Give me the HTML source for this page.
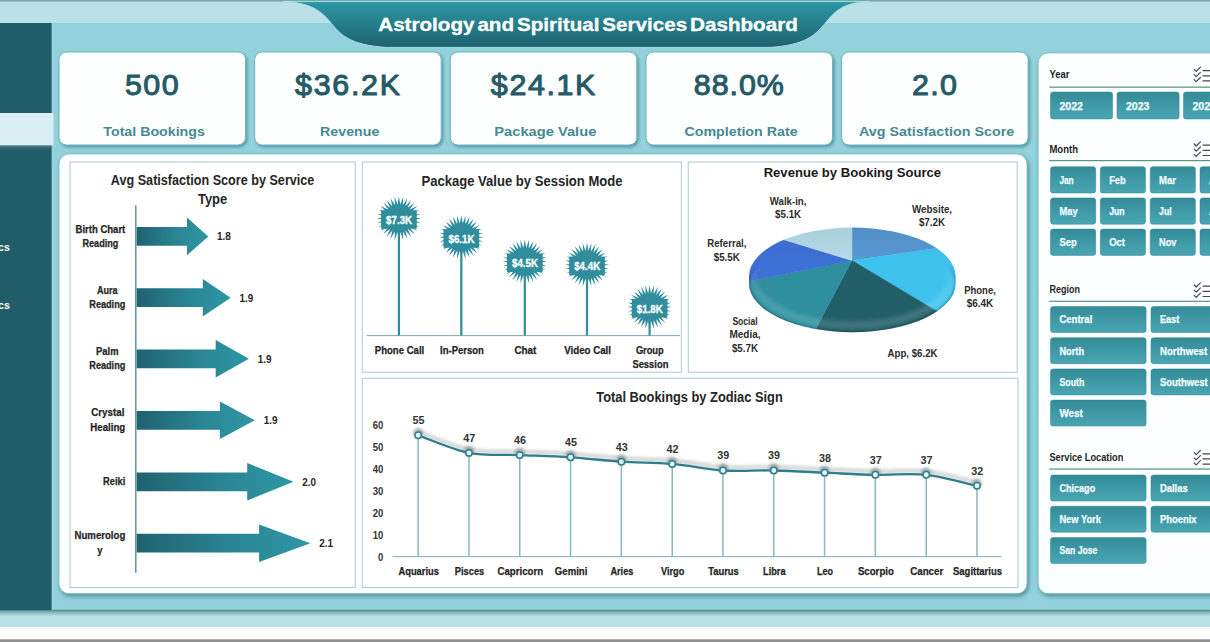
<!DOCTYPE html>
<html lang="en"><head><meta charset="utf-8"><title>Astrology and Spiritual Services Dashboard</title>
<style>
html,body{margin:0;padding:0;background:#fff;}
body{width:1210px;height:642px;overflow:hidden;}
svg{display:block;font-family:"Liberation Sans",sans-serif;}
text{white-space:pre;}
</style></head><body>
<svg width="1210" height="642" viewBox="0 0 1210 642">
<defs>
<linearGradient id="gTab" x1="0" y1="0" x2="0" y2="1"><stop offset="0" stop-color="#2b98a6"/><stop offset="0.45" stop-color="#267f8c"/><stop offset="1" stop-color="#1d626e"/></linearGradient>
<linearGradient id="gBtn" x1="0" y1="0" x2="0" y2="1"><stop offset="0" stop-color="#348b98"/><stop offset="1" stop-color="#4aa6b3"/></linearGradient>
<linearGradient id="gArr" x1="0" y1="0" x2="1" y2="0"><stop offset="0" stop-color="#1f6270"/><stop offset="0.55" stop-color="#2a8593"/><stop offset="1" stop-color="#2f97a5"/></linearGradient>
<linearGradient id="gShB" x1="0" y1="0" x2="0" y2="1"><stop offset="0" stop-color="#4a7a84" stop-opacity="1"/><stop offset="0.35" stop-color="#5f8f98" stop-opacity="0.6"/><stop offset="1" stop-color="#5f8f98" stop-opacity="0"/></linearGradient>
<linearGradient id="gShS" x1="0" y1="0" x2="0" y2="1"><stop offset="0" stop-color="#0e3a42" stop-opacity="0.0"/><stop offset="0.01" stop-color="#5c8a90" stop-opacity="0.9"/><stop offset="1" stop-color="#215d68" stop-opacity="0"/></linearGradient>
<filter id="fCard" x="-5%" y="-10%" width="112%" height="125%"><feDropShadow dx="1.5" dy="1.8" stdDeviation="1.7" flood-color="#2f6f7a" flood-opacity="0.6"/></filter>
<filter id="fPanel" x="-2%" y="-2%" width="105%" height="106%"><feDropShadow dx="1.5" dy="2.4" stdDeviation="2.1" flood-color="#2f6f7a" flood-opacity="0.7"/></filter>
<filter id="fLine" x="-5%" y="-50%" width="110%" height="200%"><feGaussianBlur stdDeviation="1.1"/></filter>
<filter id="fDot" x="-100%" y="-100%" width="300%" height="300%"><feGaussianBlur stdDeviation="1.4"/></filter>
<clipPath id="cpPage"><rect x="0" y="0" width="1210" height="642"/></clipPath>
</defs>
<rect x="0" y="0" width="1210" height="642" fill="#ffffff"/>
<rect x="0" y="0" width="1210" height="23" fill="#b9e1e7"/>
<rect x="0" y="23" width="1210" height="587" fill="#93d2dc"/>
<rect x="0" y="610" width="1210" height="17" fill="#b9e1e7"/>
<rect x="0" y="609.8" width="1210" height="6.5" fill="url(#gShB)"/>
<rect x="0" y="627" width="1210" height="13" fill="#fefefe"/>
<rect x="0" y="639.3" width="1210" height="3" fill="#8f8f8f"/>
<rect x="0" y="0" width="1210" height="1.6" fill="#7da7ad"/>
<rect x="0" y="23" width="51.6" height="587" fill="#215d68"/>
<rect x="0" y="145" width="51.6" height="7" fill="url(#gShS)"/>
<rect x="0" y="113" width="53.5" height="32.3" fill="#d9eff3"/>
<text x="9.8" y="250.7" font-size="11.5" font-weight="bold" text-anchor="end" fill="#ffffff" textLength="47.0" lengthAdjust="spacingAndGlyphs" >Analytics</text>
<text x="9.8" y="309.0" font-size="11.5" font-weight="bold" text-anchor="end" fill="#ffffff" textLength="47.0" lengthAdjust="spacingAndGlyphs" >Analytics</text>
<path d="M283,1.6 C312,2.5 322,12 331.5,23.5 C341,35 350,45 386,47.4 L770,47.4 C806,45 815,35 825,23.5 C834.5,12 842,2.5 869,1.6 Z" fill="url(#gTab)" stroke="#a9e3eb" stroke-width="0.9"/>
<text x="588.0" y="30.8" font-size="18.4" font-weight="bold" text-anchor="middle" fill="#ffffff" textLength="419.5" lengthAdjust="spacingAndGlyphs" word-spacing="-2.5" stroke="#ffffff" stroke-width="0.3">Astrology and Spiritual Services Dashboard</text>
<rect x="59.0" y="52" width="186.5" height="93" rx="7.5" fill="#fdffff" stroke="#6fb4bf" stroke-width="1" filter="url(#fCard)"/>
<text x="151.8" y="95.3" font-size="30.4" text-anchor="middle" fill="#255a66" textLength="53.5" lengthAdjust="spacing" stroke="#255a66" stroke-width="1.05" stroke-linejoin="round">500</text>
<text x="154.1" y="135.5" font-size="13.6" font-weight="bold" text-anchor="middle" fill="#468893" textLength="101.5" lengthAdjust="spacingAndGlyphs" >Total Bookings</text>
<rect x="254.7" y="52" width="186.5" height="93" rx="7.5" fill="#fdffff" stroke="#6fb4bf" stroke-width="1" filter="url(#fCard)"/>
<text x="347.5" y="95.3" font-size="30.4" text-anchor="middle" fill="#255a66" textLength="105.0" lengthAdjust="spacing" stroke="#255a66" stroke-width="1.05" stroke-linejoin="round">$36.2K</text>
<text x="349.7" y="135.5" font-size="13.6" font-weight="bold" text-anchor="middle" fill="#468893" textLength="59.2" lengthAdjust="spacingAndGlyphs" >Revenue</text>
<rect x="450.3" y="52" width="186.5" height="93" rx="7.5" fill="#fdffff" stroke="#6fb4bf" stroke-width="1" filter="url(#fCard)"/>
<text x="543.1" y="95.3" font-size="30.4" text-anchor="middle" fill="#255a66" textLength="104.5" lengthAdjust="spacing" stroke="#255a66" stroke-width="1.05" stroke-linejoin="round">$24.1K</text>
<text x="545.3" y="135.5" font-size="13.6" font-weight="bold" text-anchor="middle" fill="#468893" textLength="102.0" lengthAdjust="spacingAndGlyphs" >Package Value</text>
<rect x="646.0" y="52" width="186.5" height="93" rx="7.5" fill="#fdffff" stroke="#6fb4bf" stroke-width="1" filter="url(#fCard)"/>
<text x="738.8" y="95.3" font-size="30.4" text-anchor="middle" fill="#255a66" textLength="90.0" lengthAdjust="spacing" stroke="#255a66" stroke-width="1.05" stroke-linejoin="round">88.0%</text>
<text x="741.0" y="135.5" font-size="13.6" font-weight="bold" text-anchor="middle" fill="#468893" textLength="113.2" lengthAdjust="spacingAndGlyphs" >Completion Rate</text>
<rect x="841.6" y="52" width="186.5" height="93" rx="7.5" fill="#fdffff" stroke="#6fb4bf" stroke-width="1" filter="url(#fCard)"/>
<text x="934.5" y="95.3" font-size="30.4" text-anchor="middle" fill="#255a66" textLength="45.0" lengthAdjust="spacing" stroke="#255a66" stroke-width="1.05" stroke-linejoin="round">2.0</text>
<text x="936.6" y="135.5" font-size="13.6" font-weight="bold" text-anchor="middle" fill="#468893" textLength="155.4" lengthAdjust="spacingAndGlyphs" >Avg Satisfaction Score</text>
<rect x="59" y="154" width="968" height="439.6" rx="10" fill="#fcffff" stroke="#7dbcc6" stroke-width="0.8" filter="url(#fPanel)"/>
<rect x="1038.2" y="53" width="200" height="540.6" rx="10" fill="#fcffff" stroke="#7dbcc6" stroke-width="0.8" filter="url(#fPanel)"/>
<rect x="70.0" y="162.0" width="285.2" height="425.5" fill="#ffffff" stroke="#b3cdcf" stroke-width="1.1"/>
<rect x="362.3" y="162.0" width="319.0" height="210.2" fill="#ffffff" stroke="#b3cdcf" stroke-width="1.1"/>
<rect x="688.3" y="162.0" width="328.9" height="210.2" fill="#ffffff" stroke="#b3cdcf" stroke-width="1.1"/>
<rect x="362.3" y="378.3" width="655.7" height="209.2" fill="#ffffff" stroke="#b3cdcf" stroke-width="1.1"/>
<text x="212.6" y="184.9" font-size="14" font-weight="bold" text-anchor="middle" fill="#262626" textLength="203.5" lengthAdjust="spacingAndGlyphs" >Avg Satisfaction Score by Service</text>
<text x="212.6" y="203.6" font-size="14" font-weight="bold" text-anchor="middle" fill="#262626" textLength="29.3" lengthAdjust="spacingAndGlyphs" >Type</text>
<rect x="135.2" y="205.3" width="1.25" height="367.4" fill="#33808d"/>
<path d="M136.7,227.0 L187.0,227.0 L187.0,217.6 L208.3,236.4 L187.0,255.2 L187.0,245.8 L136.7,245.8 Z" fill="url(#gArr)"/>
<text x="217.1" y="240.4" font-size="11" font-weight="bold" fill="#262626" textLength="13.8" lengthAdjust="spacingAndGlyphs" >1.8</text>
<text x="100.4" y="232.5" font-size="10.4" font-weight="bold" text-anchor="middle" fill="#262626" textLength="49.8" lengthAdjust="spacingAndGlyphs" stroke="#262626" stroke-width="0.25">Birth Chart</text>
<text x="100.4" y="246.8" font-size="10.4" font-weight="bold" text-anchor="middle" fill="#262626" textLength="36.0" lengthAdjust="spacingAndGlyphs" stroke="#262626" stroke-width="0.25">Reading</text>
<path d="M136.7,288.3 L202.8,288.3 L202.8,278.9 L230.7,297.7 L202.8,316.5 L202.8,307.1 L136.7,307.1 Z" fill="url(#gArr)"/>
<text x="239.5" y="301.7" font-size="11" font-weight="bold" fill="#262626" textLength="13.8" lengthAdjust="spacingAndGlyphs" >1.9</text>
<text x="107.3" y="293.8" font-size="10.4" font-weight="bold" text-anchor="middle" fill="#262626" textLength="20.7" lengthAdjust="spacingAndGlyphs" stroke="#262626" stroke-width="0.25">Aura</text>
<text x="107.3" y="308.1" font-size="10.4" font-weight="bold" text-anchor="middle" fill="#262626" textLength="36.0" lengthAdjust="spacingAndGlyphs" stroke="#262626" stroke-width="0.25">Reading</text>
<path d="M136.7,349.4 L215.7,349.4 L215.7,340.0 L248.9,358.8 L215.7,377.6 L215.7,368.2 L136.7,368.2 Z" fill="url(#gArr)"/>
<text x="257.7" y="362.8" font-size="11" font-weight="bold" fill="#262626" textLength="13.8" lengthAdjust="spacingAndGlyphs" >1.9</text>
<text x="107.3" y="354.9" font-size="10.4" font-weight="bold" text-anchor="middle" fill="#262626" textLength="22.4" lengthAdjust="spacingAndGlyphs" stroke="#262626" stroke-width="0.25">Palm</text>
<text x="107.3" y="369.2" font-size="10.4" font-weight="bold" text-anchor="middle" fill="#262626" textLength="36.0" lengthAdjust="spacingAndGlyphs" stroke="#262626" stroke-width="0.25">Reading</text>
<path d="M136.7,410.9 L219.9,410.9 L219.9,401.5 L254.9,420.3 L219.9,439.1 L219.9,429.7 L136.7,429.7 Z" fill="url(#gArr)"/>
<text x="263.7" y="424.3" font-size="11" font-weight="bold" fill="#262626" textLength="13.8" lengthAdjust="spacingAndGlyphs" >1.9</text>
<text x="107.8" y="416.4" font-size="10.4" font-weight="bold" text-anchor="middle" fill="#262626" textLength="33.1" lengthAdjust="spacingAndGlyphs" stroke="#262626" stroke-width="0.25">Crystal</text>
<text x="107.8" y="430.7" font-size="10.4" font-weight="bold" text-anchor="middle" fill="#262626" textLength="34.9" lengthAdjust="spacingAndGlyphs" stroke="#262626" stroke-width="0.25">Healing</text>
<path d="M136.7,472.4 L247.2,472.4 L247.2,463.0 L293.5,481.8 L247.2,500.6 L247.2,491.2 L136.7,491.2 Z" fill="url(#gArr)"/>
<text x="302.3" y="485.8" font-size="11" font-weight="bold" fill="#262626" textLength="13.8" lengthAdjust="spacingAndGlyphs" >2.0</text>
<text x="114.2" y="485.2" font-size="10.4" font-weight="bold" text-anchor="middle" fill="#262626" textLength="22.2" lengthAdjust="spacingAndGlyphs" stroke="#262626" stroke-width="0.25">Reiki</text>
<path d="M136.7,533.8 L259.1,533.8 L259.1,524.4 L310.4,543.2 L259.1,562.0 L259.1,552.6 L136.7,552.6 Z" fill="url(#gArr)"/>
<text x="319.2" y="547.2" font-size="11" font-weight="bold" fill="#262626" textLength="13.8" lengthAdjust="spacingAndGlyphs" >2.1</text>
<text x="99.9" y="539.3" font-size="10.4" font-weight="bold" text-anchor="middle" fill="#262626" textLength="50.8" lengthAdjust="spacingAndGlyphs" stroke="#262626" stroke-width="0.25">Numerolog</text>
<text x="99.9" y="553.6" font-size="10.4" font-weight="bold" text-anchor="middle" fill="#262626" textLength="5.2" lengthAdjust="spacingAndGlyphs" stroke="#262626" stroke-width="0.25">y</text>
<text x="522.0" y="185.7" font-size="14" font-weight="bold" text-anchor="middle" fill="#262626" textLength="201.0" lengthAdjust="spacingAndGlyphs" >Package Value by Session Mode</text>
<rect x="366.8" y="335" width="313" height="1.1" fill="#86b3b9"/>
<rect x="397.8" y="219.6" width="2.2" height="115.9" fill="#2f8d9c"/>
<path d="M398.9,196.2 L400.3,204.7 L403.2,196.6 L402.9,205.2 L407.4,197.9 L405.4,206.2 L411.2,199.9 L407.7,207.7 L414.6,202.7 L409.6,209.6 L417.4,206.1 L411.1,211.9 L419.4,209.9 L412.1,214.4 L420.7,214.1 L412.6,217.0 L421.1,218.4 L412.6,219.8 L420.7,222.7 L412.1,222.4 L419.4,226.9 L411.1,224.9 L417.4,230.7 L409.6,227.2 L414.6,234.1 L407.7,229.1 L411.2,236.9 L405.4,230.6 L407.4,238.9 L402.9,231.6 L403.2,240.2 L400.3,232.1 L398.9,240.6 L397.5,232.1 L394.6,240.2 L394.9,231.6 L390.4,238.9 L392.4,230.6 L386.6,236.9 L390.1,229.1 L383.2,234.1 L388.2,227.2 L380.4,230.7 L386.7,224.9 L378.4,226.9 L385.7,222.4 L377.1,222.7 L385.2,219.8 L376.7,218.4 L385.2,217.0 L377.1,214.1 L385.7,214.4 L378.4,209.9 L386.7,211.9 L380.4,206.1 L388.2,209.6 L383.2,202.7 L390.1,207.7 L386.6,199.9 L392.4,206.2 L390.4,197.9 L394.9,205.2 L394.6,196.6 L397.5,204.7Z" fill="#2f8d9c"/>
<rect x="381.1" y="210.2" width="35.6" height="18.6" fill="#2f8d9c"/>
<text x="399.1" y="224.0" font-size="10.8" font-weight="bold" text-anchor="middle" fill="#ffffff" textLength="26.0" lengthAdjust="spacingAndGlyphs" stroke="#ffffff" stroke-width="0.3">$7.3K</text>
<text x="399.5" y="354.0" font-size="10.4" font-weight="bold" text-anchor="middle" fill="#262626" textLength="49.5" lengthAdjust="spacingAndGlyphs" stroke="#262626" stroke-width="0.25">Phone Call</text>
<rect x="460.2" y="238.5" width="2.2" height="97.0" fill="#2f8d9c"/>
<path d="M461.3,215.1 L462.7,223.6 L465.6,215.5 L465.3,224.1 L469.8,216.8 L467.8,225.1 L473.6,218.8 L470.1,226.6 L477.0,221.6 L472.0,228.5 L479.8,225.0 L473.5,230.8 L481.8,228.8 L474.5,233.3 L483.1,233.0 L475.0,235.9 L483.5,237.3 L475.0,238.7 L483.1,241.6 L474.5,241.3 L481.8,245.8 L473.5,243.8 L479.8,249.6 L472.0,246.1 L477.0,253.0 L470.1,248.0 L473.6,255.8 L467.8,249.5 L469.8,257.8 L465.3,250.5 L465.6,259.1 L462.7,251.0 L461.3,259.5 L459.9,251.0 L457.0,259.1 L457.3,250.5 L452.8,257.8 L454.8,249.5 L449.0,255.8 L452.5,248.0 L445.6,253.0 L450.6,246.1 L442.8,249.6 L449.1,243.8 L440.8,245.8 L448.1,241.3 L439.5,241.6 L447.6,238.7 L439.1,237.3 L447.6,235.9 L439.5,233.0 L448.1,233.3 L440.8,228.8 L449.1,230.8 L442.8,225.0 L450.6,228.5 L445.6,221.6 L452.5,226.6 L449.0,218.8 L454.8,225.1 L452.8,216.8 L457.3,224.1 L457.0,215.5 L459.9,223.6Z" fill="#2f8d9c"/>
<rect x="443.5" y="229.1" width="35.6" height="18.6" fill="#2f8d9c"/>
<text x="461.5" y="242.9" font-size="10.8" font-weight="bold" text-anchor="middle" fill="#ffffff" textLength="26.0" lengthAdjust="spacingAndGlyphs" stroke="#ffffff" stroke-width="0.3">$6.1K</text>
<text x="461.9" y="354.0" font-size="10.4" font-weight="bold" text-anchor="middle" fill="#262626" textLength="43.6" lengthAdjust="spacingAndGlyphs" stroke="#262626" stroke-width="0.25">In-Person</text>
<rect x="523.7" y="262.8" width="2.2" height="72.7" fill="#2f8d9c"/>
<path d="M524.8,239.4 L526.2,247.9 L529.1,239.8 L528.8,248.4 L533.3,241.1 L531.3,249.4 L537.1,243.1 L533.6,250.9 L540.5,245.9 L535.5,252.8 L543.3,249.3 L537.0,255.1 L545.3,253.1 L538.0,257.6 L546.6,257.3 L538.5,260.2 L547.0,261.6 L538.5,263.0 L546.6,265.9 L538.0,265.6 L545.3,270.1 L537.0,268.1 L543.3,273.9 L535.5,270.4 L540.5,277.3 L533.6,272.3 L537.1,280.1 L531.3,273.8 L533.3,282.1 L528.8,274.8 L529.1,283.4 L526.2,275.3 L524.8,283.8 L523.4,275.3 L520.5,283.4 L520.8,274.8 L516.3,282.1 L518.3,273.8 L512.5,280.1 L516.0,272.3 L509.1,277.3 L514.1,270.4 L506.3,273.9 L512.6,268.1 L504.3,270.1 L511.6,265.6 L503.0,265.9 L511.1,263.0 L502.6,261.6 L511.1,260.2 L503.0,257.3 L511.6,257.6 L504.3,253.1 L512.6,255.1 L506.3,249.3 L514.1,252.8 L509.1,245.9 L516.0,250.9 L512.5,243.1 L518.3,249.4 L516.3,241.1 L520.8,248.4 L520.5,239.8 L523.4,247.9Z" fill="#2f8d9c"/>
<rect x="507.0" y="253.4" width="35.6" height="18.6" fill="#2f8d9c"/>
<text x="525.0" y="267.2" font-size="10.8" font-weight="bold" text-anchor="middle" fill="#ffffff" textLength="26.0" lengthAdjust="spacingAndGlyphs" stroke="#ffffff" stroke-width="0.3">$4.5K</text>
<text x="525.4" y="354.0" font-size="10.4" font-weight="bold" text-anchor="middle" fill="#262626" textLength="22.0" lengthAdjust="spacingAndGlyphs" stroke="#262626" stroke-width="0.25">Chat</text>
<rect x="585.9" y="266.0" width="2.2" height="69.5" fill="#2f8d9c"/>
<path d="M587.0,242.6 L588.4,251.1 L591.3,243.0 L591.0,251.6 L595.5,244.3 L593.5,252.6 L599.3,246.3 L595.8,254.1 L602.7,249.1 L597.7,256.0 L605.5,252.5 L599.2,258.3 L607.5,256.3 L600.2,260.8 L608.8,260.5 L600.7,263.4 L609.2,264.8 L600.7,266.2 L608.8,269.1 L600.2,268.8 L607.5,273.3 L599.2,271.3 L605.5,277.1 L597.7,273.6 L602.7,280.5 L595.8,275.5 L599.3,283.3 L593.5,277.0 L595.5,285.3 L591.0,278.0 L591.3,286.6 L588.4,278.5 L587.0,287.0 L585.6,278.5 L582.7,286.6 L583.0,278.0 L578.5,285.3 L580.5,277.0 L574.7,283.3 L578.2,275.5 L571.3,280.5 L576.3,273.6 L568.5,277.1 L574.8,271.3 L566.5,273.3 L573.8,268.8 L565.2,269.1 L573.3,266.2 L564.8,264.8 L573.3,263.4 L565.2,260.5 L573.8,260.8 L566.5,256.3 L574.8,258.3 L568.5,252.5 L576.3,256.0 L571.3,249.1 L578.2,254.1 L574.7,246.3 L580.5,252.6 L578.5,244.3 L583.0,251.6 L582.7,243.0 L585.6,251.1Z" fill="#2f8d9c"/>
<rect x="569.2" y="256.6" width="35.6" height="18.6" fill="#2f8d9c"/>
<text x="587.2" y="270.4" font-size="10.8" font-weight="bold" text-anchor="middle" fill="#ffffff" textLength="26.0" lengthAdjust="spacingAndGlyphs" stroke="#ffffff" stroke-width="0.3">$4.4K</text>
<text x="587.6" y="354.0" font-size="10.4" font-weight="bold" text-anchor="middle" fill="#262626" textLength="46.8" lengthAdjust="spacingAndGlyphs" stroke="#262626" stroke-width="0.25">Video Call</text>
<rect x="648.5" y="308.3" width="2.2" height="27.2" fill="#2f8d9c"/>
<path d="M649.6,284.9 L651.0,293.4 L653.9,285.3 L653.6,293.9 L658.1,286.6 L656.1,294.9 L661.9,288.6 L658.4,296.4 L665.3,291.4 L660.3,298.3 L668.1,294.8 L661.8,300.6 L670.1,298.6 L662.8,303.1 L671.4,302.8 L663.3,305.7 L671.8,307.1 L663.3,308.5 L671.4,311.4 L662.8,311.1 L670.1,315.6 L661.8,313.6 L668.1,319.4 L660.3,315.9 L665.3,322.8 L658.4,317.8 L661.9,325.6 L656.1,319.3 L658.1,327.6 L653.6,320.3 L653.9,328.9 L651.0,320.8 L649.6,329.3 L648.2,320.8 L645.3,328.9 L645.6,320.3 L641.1,327.6 L643.1,319.3 L637.3,325.6 L640.8,317.8 L633.9,322.8 L638.9,315.9 L631.1,319.4 L637.4,313.6 L629.1,315.6 L636.4,311.1 L627.8,311.4 L635.9,308.5 L627.4,307.1 L635.9,305.7 L627.8,302.8 L636.4,303.1 L629.1,298.6 L637.4,300.6 L631.1,294.8 L638.9,298.3 L633.9,291.4 L640.8,296.4 L637.3,288.6 L643.1,294.9 L641.1,286.6 L645.6,293.9 L645.3,285.3 L648.2,293.4Z" fill="#2f8d9c"/>
<rect x="631.8" y="298.9" width="35.6" height="18.6" fill="#2f8d9c"/>
<text x="649.8" y="312.7" font-size="10.8" font-weight="bold" text-anchor="middle" fill="#ffffff" textLength="26.0" lengthAdjust="spacingAndGlyphs" stroke="#ffffff" stroke-width="0.3">$1.8K</text>
<text x="649.8" y="354.0" font-size="10.4" font-weight="bold" text-anchor="middle" fill="#262626" textLength="27.8" lengthAdjust="spacingAndGlyphs" stroke="#262626" stroke-width="0.25">Group</text>
<text x="650.4" y="368.0" font-size="10.4" font-weight="bold" text-anchor="middle" fill="#262626" textLength="36.0" lengthAdjust="spacingAndGlyphs" stroke="#262626" stroke-width="0.25">Session</text>
<text x="852.4" y="177.4" font-size="13.2" font-weight="bold" text-anchor="middle" fill="#1a1a1a" textLength="177.5" lengthAdjust="spacingAndGlyphs" >Revenue by Booking Source</text>
<clipPath id="cpPie"><ellipse cx="852.3" cy="276.4" rx="103.3" ry="48.9"/></clipPath>
<radialGradient id="gPieHi" cx="0.5" cy="0.42" r="0.6" fx="0.5" fy="0.35"><stop offset="0" stop-color="#ffffff" stop-opacity="0"/><stop offset="0.80" stop-color="#ffffff" stop-opacity="0"/><stop offset="0.93" stop-color="#ffffff" stop-opacity="0.20"/><stop offset="1" stop-color="#ffffff" stop-opacity="0.05"/></radialGradient>
<linearGradient id="gPieV" x1="0" y1="0" x2="0" y2="1"><stop offset="0" stop-color="#000" stop-opacity="0.06"/><stop offset="0.35" stop-color="#000" stop-opacity="0"/><stop offset="1" stop-color="#000" stop-opacity="0"/></linearGradient>
<clipPath id="cpSil"><ellipse cx="852.3" cy="276.4" rx="103.3" ry="48.9"/><ellipse cx="852.3" cy="283.4" rx="103.3" ry="48.9"/><rect x="749.0" y="276.4" width="206.6" height="7.0"/></clipPath>
<filter id="fBev" x="-10%" y="-30%" width="120%" height="160%"><feGaussianBlur stdDeviation="2.8"/></filter>
<filter id="fBev2" x="-10%" y="-30%" width="120%" height="160%"><feGaussianBlur stdDeviation="1.3"/></filter>
<g clip-path="url(#cpSil)">
<path d="M852.0,260.6 L852.0,0.6 L889.0,3.2 L925.2,11.1 L959.9,24.1 L992.5,41.8 L1022.2,64.0 L1048.4,90.2 L1070.6,119.9 L1088.4,152.4 L1101.4,187.1 L1109.3,223.3 Z" fill="#5898d4" stroke="#5898d4" stroke-width="0.5"/>
<path d="M852.0,260.6 L1109.3,223.3 L1112.0,258.7 L1109.8,294.0 L1102.9,328.8 L1091.3,362.3 L1075.2,393.9 Z" fill="#3ec3ef" stroke="#3ec3ef" stroke-width="0.5"/>
<path d="M852.0,260.6 L1075.2,393.9 L1054.7,423.4 L1030.4,449.8 L1002.6,472.6 L971.9,491.3 L939.0,505.6 L904.4,515.3 L868.8,520.1 L832.9,519.9 L797.3,514.8 L762.8,504.8 L730.0,490.2 Z" fill="#215e68" stroke="#215e68" stroke-width="0.5"/>
<path d="M852.0,260.6 L730.0,490.2 L697.6,469.8 L668.5,444.8 L643.4,415.9 L622.9,383.5 L607.3,348.5 L597.1,311.6 Z" fill="#2e8f9e" stroke="#2e8f9e" stroke-width="0.5"/>
<path d="M852.0,260.6 L597.1,311.6 L592.7,279.8 L592.3,247.7 L595.9,215.8 L603.4,184.6 Z" fill="#3e70d6" stroke="#3e70d6" stroke-width="0.5"/>
<path d="M852.0,260.6 L603.4,184.6 L616.6,150.3 L634.5,118.2 L656.8,88.9 L683.0,63.1 L712.5,41.2 L744.9,23.7 L779.4,11.0 L815.3,3.2 L852.0,0.6 Z" fill="#b4dce8" stroke="#b4dce8" stroke-width="0.5"/>
<linearGradient id="gMaskV" gradientUnits="userSpaceOnUse" x1="0" y1="262" x2="0" y2="296"><stop offset="0" stop-color="#000"/><stop offset="1" stop-color="#fff"/></linearGradient>
<mask id="mLow" maskUnits="userSpaceOnUse" x="730" y="220" width="250" height="130"><rect x="730" y="220" width="250" height="130" fill="url(#gMaskV)"/></mask>
<g mask="url(#mLow)">
<ellipse cx="852.3" cy="277.4" rx="99.3" ry="47.9" fill="none" stroke="#ffffff" stroke-opacity="0.16" stroke-width="7" filter="url(#fBev)"/>
<ellipse cx="852.3" cy="284.0" rx="103.8" ry="49.4" fill="none" stroke="#06262c" stroke-opacity="0.5" stroke-width="2.6" filter="url(#fBev2)"/>
</g>
<ellipse cx="852.3" cy="276.4" rx="103.3" ry="48.9" fill="url(#gPieV)"/>
</g>
<text x="788.1" y="205.2" font-size="10.3" font-weight="bold" text-anchor="middle" fill="#2b2b2b" textLength="36.6" lengthAdjust="spacingAndGlyphs" >Walk-in,</text>
<text x="788.1" y="218.3" font-size="10.3" font-weight="bold" text-anchor="middle" fill="#2b2b2b" textLength="26.2" lengthAdjust="spacingAndGlyphs" >$5.1K</text>
<text x="932.0" y="212.7" font-size="10.3" font-weight="bold" text-anchor="middle" fill="#2b2b2b" textLength="40.2" lengthAdjust="spacingAndGlyphs" >Website,</text>
<text x="932.0" y="225.8" font-size="10.3" font-weight="bold" text-anchor="middle" fill="#2b2b2b" textLength="26.2" lengthAdjust="spacingAndGlyphs" >$7.2K</text>
<text x="726.8" y="247.0" font-size="10.3" font-weight="bold" text-anchor="middle" fill="#2b2b2b" textLength="39.2" lengthAdjust="spacingAndGlyphs" >Referral,</text>
<text x="726.8" y="260.8" font-size="10.3" font-weight="bold" text-anchor="middle" fill="#2b2b2b" textLength="26.2" lengthAdjust="spacingAndGlyphs" >$5.5K</text>
<text x="980.0" y="293.5" font-size="10.3" font-weight="bold" text-anchor="middle" fill="#2b2b2b" textLength="31.7" lengthAdjust="spacingAndGlyphs" >Phone,</text>
<text x="980.0" y="306.9" font-size="10.3" font-weight="bold" text-anchor="middle" fill="#2b2b2b" textLength="26.6" lengthAdjust="spacingAndGlyphs" >$6.4K</text>
<text x="745.0" y="324.9" font-size="10.3" font-weight="bold" text-anchor="middle" fill="#2b2b2b" textLength="25.2" lengthAdjust="spacingAndGlyphs" >Social</text>
<text x="745.0" y="338.2" font-size="10.3" font-weight="bold" text-anchor="middle" fill="#2b2b2b" textLength="31.1" lengthAdjust="spacingAndGlyphs" >Media,</text>
<text x="745.0" y="351.7" font-size="10.3" font-weight="bold" text-anchor="middle" fill="#2b2b2b" textLength="26.2" lengthAdjust="spacingAndGlyphs" >$5.7K</text>
<text x="912.5" y="356.6" font-size="10.3" font-weight="bold" text-anchor="middle" fill="#2b2b2b" textLength="50.0" lengthAdjust="spacingAndGlyphs" >App, $6.2K</text>
<text x="689.5" y="402.4" font-size="14" font-weight="bold" text-anchor="middle" fill="#262626" textLength="186.5" lengthAdjust="spacingAndGlyphs" >Total Bookings by Zodiac Sign</text>
<text x="383.4" y="560.9" font-size="11" font-weight="bold" text-anchor="end" fill="#333" textLength="5.3" lengthAdjust="spacingAndGlyphs" >0</text>
<text x="383.4" y="538.9" font-size="11" font-weight="bold" text-anchor="end" fill="#333" textLength="10.6" lengthAdjust="spacingAndGlyphs" >10</text>
<text x="383.4" y="517.0" font-size="11" font-weight="bold" text-anchor="end" fill="#333" textLength="10.6" lengthAdjust="spacingAndGlyphs" >20</text>
<text x="383.4" y="495.0" font-size="11" font-weight="bold" text-anchor="end" fill="#333" textLength="10.6" lengthAdjust="spacingAndGlyphs" >30</text>
<text x="383.4" y="473.1" font-size="11" font-weight="bold" text-anchor="end" fill="#333" textLength="10.6" lengthAdjust="spacingAndGlyphs" >40</text>
<text x="383.4" y="451.1" font-size="11" font-weight="bold" text-anchor="end" fill="#333" textLength="10.6" lengthAdjust="spacingAndGlyphs" >50</text>
<text x="383.4" y="429.1" font-size="11" font-weight="bold" text-anchor="end" fill="#333" textLength="10.6" lengthAdjust="spacingAndGlyphs" >60</text>
<rect x="392.6" y="556.0" width="608.8" height="1.2" fill="#8fb7bd"/>
<rect x="417.4" y="435.3" width="1.5" height="121.3" fill="#8db6bd"/>
<rect x="468.2" y="452.9" width="1.5" height="103.7" fill="#8db6bd"/>
<rect x="519.0" y="455.1" width="1.5" height="101.5" fill="#8db6bd"/>
<rect x="569.8" y="457.3" width="1.5" height="99.3" fill="#8db6bd"/>
<rect x="620.6" y="461.7" width="1.5" height="94.9" fill="#8db6bd"/>
<rect x="671.5" y="463.9" width="1.5" height="92.7" fill="#8db6bd"/>
<rect x="722.2" y="470.5" width="1.5" height="86.1" fill="#8db6bd"/>
<rect x="773.0" y="470.5" width="1.5" height="86.1" fill="#8db6bd"/>
<rect x="823.8" y="472.7" width="1.5" height="83.9" fill="#8db6bd"/>
<rect x="874.6" y="474.8" width="1.5" height="81.8" fill="#8db6bd"/>
<rect x="925.5" y="474.8" width="1.5" height="81.8" fill="#8db6bd"/>
<rect x="976.2" y="485.8" width="1.5" height="70.8" fill="#8db6bd"/>
<path d="M418.2,435.3 C426.7,438.2 452.1,449.6 469.0,452.9 C485.9,456.2 502.9,454.4 519.8,455.1 C536.7,455.8 553.7,456.2 570.6,457.3 C587.5,458.4 604.5,460.6 621.4,461.7 C638.3,462.8 655.3,462.4 672.2,463.9 C689.1,465.3 706.1,469.4 723.0,470.5 C739.9,471.6 756.9,470.1 773.8,470.5 C790.7,470.8 807.7,471.9 824.6,472.7 C841.5,473.4 858.5,474.5 875.4,474.8 C892.3,475.2 909.3,473.0 926.2,474.8 C943.1,476.7 968.5,484.0 977.0,485.8" fill="none" stroke="#c2c6c8" stroke-opacity="0.6" stroke-width="5" filter="url(#fLine)" transform="translate(0,-3.4)"/>
<path d="M418.2,435.3 C426.7,438.2 452.1,449.6 469.0,452.9 C485.9,456.2 502.9,454.4 519.8,455.1 C536.7,455.8 553.7,456.2 570.6,457.3 C587.5,458.4 604.5,460.6 621.4,461.7 C638.3,462.8 655.3,462.4 672.2,463.9 C689.1,465.3 706.1,469.4 723.0,470.5 C739.9,471.6 756.9,470.1 773.8,470.5 C790.7,470.8 807.7,471.9 824.6,472.7 C841.5,473.4 858.5,474.5 875.4,474.8 C892.3,475.2 909.3,473.0 926.2,474.8 C943.1,476.7 968.5,484.0 977.0,485.8" fill="none" stroke="#2d7f8c" stroke-width="2.3" stroke-linecap="round"/>
<circle cx="418.2" cy="433.3" r="5.0" fill="#6d7c81" fill-opacity="0.6" filter="url(#fDot)"/>
<circle cx="418.2" cy="435.3" r="3.2" fill="#e0fbff" stroke="#347e8a" stroke-width="1.5"/>
<circle cx="469.0" cy="450.9" r="5.0" fill="#6d7c81" fill-opacity="0.6" filter="url(#fDot)"/>
<circle cx="469.0" cy="452.9" r="3.2" fill="#e0fbff" stroke="#347e8a" stroke-width="1.5"/>
<circle cx="519.8" cy="453.1" r="5.0" fill="#6d7c81" fill-opacity="0.6" filter="url(#fDot)"/>
<circle cx="519.8" cy="455.1" r="3.2" fill="#e0fbff" stroke="#347e8a" stroke-width="1.5"/>
<circle cx="570.6" cy="455.3" r="5.0" fill="#6d7c81" fill-opacity="0.6" filter="url(#fDot)"/>
<circle cx="570.6" cy="457.3" r="3.2" fill="#e0fbff" stroke="#347e8a" stroke-width="1.5"/>
<circle cx="621.4" cy="459.7" r="5.0" fill="#6d7c81" fill-opacity="0.6" filter="url(#fDot)"/>
<circle cx="621.4" cy="461.7" r="3.2" fill="#e0fbff" stroke="#347e8a" stroke-width="1.5"/>
<circle cx="672.2" cy="461.9" r="5.0" fill="#6d7c81" fill-opacity="0.6" filter="url(#fDot)"/>
<circle cx="672.2" cy="463.9" r="3.2" fill="#e0fbff" stroke="#347e8a" stroke-width="1.5"/>
<circle cx="723.0" cy="468.5" r="5.0" fill="#6d7c81" fill-opacity="0.6" filter="url(#fDot)"/>
<circle cx="723.0" cy="470.5" r="3.2" fill="#e0fbff" stroke="#347e8a" stroke-width="1.5"/>
<circle cx="773.8" cy="468.5" r="5.0" fill="#6d7c81" fill-opacity="0.6" filter="url(#fDot)"/>
<circle cx="773.8" cy="470.5" r="3.2" fill="#e0fbff" stroke="#347e8a" stroke-width="1.5"/>
<circle cx="824.6" cy="470.7" r="5.0" fill="#6d7c81" fill-opacity="0.6" filter="url(#fDot)"/>
<circle cx="824.6" cy="472.7" r="3.2" fill="#e0fbff" stroke="#347e8a" stroke-width="1.5"/>
<circle cx="875.4" cy="472.8" r="5.0" fill="#6d7c81" fill-opacity="0.6" filter="url(#fDot)"/>
<circle cx="875.4" cy="474.8" r="3.2" fill="#e0fbff" stroke="#347e8a" stroke-width="1.5"/>
<circle cx="926.2" cy="472.8" r="5.0" fill="#6d7c81" fill-opacity="0.6" filter="url(#fDot)"/>
<circle cx="926.2" cy="474.8" r="3.2" fill="#e0fbff" stroke="#347e8a" stroke-width="1.5"/>
<circle cx="977.0" cy="483.8" r="5.0" fill="#6d7c81" fill-opacity="0.6" filter="url(#fDot)"/>
<circle cx="977.0" cy="485.8" r="3.2" fill="#e0fbff" stroke="#347e8a" stroke-width="1.5"/>
<text x="418.5" y="424.1" font-size="11" font-weight="bold" text-anchor="middle" fill="#333" textLength="12.0" lengthAdjust="spacingAndGlyphs" >55</text>
<text x="418.7" y="574.8" font-size="10.4" font-weight="bold" text-anchor="middle" fill="#262626" textLength="40.5" lengthAdjust="spacingAndGlyphs" stroke="#262626" stroke-width="0.25">Aquarius</text>
<text x="469.3" y="441.7" font-size="11" font-weight="bold" text-anchor="middle" fill="#333" textLength="12.0" lengthAdjust="spacingAndGlyphs" >47</text>
<text x="469.5" y="574.8" font-size="10.4" font-weight="bold" text-anchor="middle" fill="#262626" textLength="29.5" lengthAdjust="spacingAndGlyphs" stroke="#262626" stroke-width="0.25">Pisces</text>
<text x="520.1" y="443.9" font-size="11" font-weight="bold" text-anchor="middle" fill="#333" textLength="12.0" lengthAdjust="spacingAndGlyphs" >46</text>
<text x="520.3" y="574.8" font-size="10.4" font-weight="bold" text-anchor="middle" fill="#262626" textLength="45.5" lengthAdjust="spacingAndGlyphs" stroke="#262626" stroke-width="0.25">Capricorn</text>
<text x="570.9" y="446.1" font-size="11" font-weight="bold" text-anchor="middle" fill="#333" textLength="12.0" lengthAdjust="spacingAndGlyphs" >45</text>
<text x="571.1" y="574.8" font-size="10.4" font-weight="bold" text-anchor="middle" fill="#262626" textLength="32.5" lengthAdjust="spacingAndGlyphs" stroke="#262626" stroke-width="0.25">Gemini</text>
<text x="621.7" y="450.5" font-size="11" font-weight="bold" text-anchor="middle" fill="#333" textLength="12.0" lengthAdjust="spacingAndGlyphs" >43</text>
<text x="621.9" y="574.8" font-size="10.4" font-weight="bold" text-anchor="middle" fill="#262626" textLength="23.0" lengthAdjust="spacingAndGlyphs" stroke="#262626" stroke-width="0.25">Aries</text>
<text x="672.5" y="452.7" font-size="11" font-weight="bold" text-anchor="middle" fill="#333" textLength="12.0" lengthAdjust="spacingAndGlyphs" >42</text>
<text x="672.7" y="574.8" font-size="10.4" font-weight="bold" text-anchor="middle" fill="#262626" textLength="23.5" lengthAdjust="spacingAndGlyphs" stroke="#262626" stroke-width="0.25">Virgo</text>
<text x="723.3" y="459.3" font-size="11" font-weight="bold" text-anchor="middle" fill="#333" textLength="12.0" lengthAdjust="spacingAndGlyphs" >39</text>
<text x="723.5" y="574.8" font-size="10.4" font-weight="bold" text-anchor="middle" fill="#262626" textLength="30.5" lengthAdjust="spacingAndGlyphs" stroke="#262626" stroke-width="0.25">Taurus</text>
<text x="774.1" y="459.3" font-size="11" font-weight="bold" text-anchor="middle" fill="#333" textLength="12.0" lengthAdjust="spacingAndGlyphs" >39</text>
<text x="774.3" y="574.8" font-size="10.4" font-weight="bold" text-anchor="middle" fill="#262626" textLength="22.5" lengthAdjust="spacingAndGlyphs" stroke="#262626" stroke-width="0.25">Libra</text>
<text x="824.9" y="461.5" font-size="11" font-weight="bold" text-anchor="middle" fill="#333" textLength="12.0" lengthAdjust="spacingAndGlyphs" >38</text>
<text x="825.1" y="574.8" font-size="10.4" font-weight="bold" text-anchor="middle" fill="#262626" textLength="16.0" lengthAdjust="spacingAndGlyphs" stroke="#262626" stroke-width="0.25">Leo</text>
<text x="875.7" y="463.6" font-size="11" font-weight="bold" text-anchor="middle" fill="#333" textLength="12.0" lengthAdjust="spacingAndGlyphs" >37</text>
<text x="875.9" y="574.8" font-size="10.4" font-weight="bold" text-anchor="middle" fill="#262626" textLength="36.0" lengthAdjust="spacingAndGlyphs" stroke="#262626" stroke-width="0.25">Scorpio</text>
<text x="926.5" y="463.6" font-size="11" font-weight="bold" text-anchor="middle" fill="#333" textLength="12.0" lengthAdjust="spacingAndGlyphs" >37</text>
<text x="926.7" y="574.8" font-size="10.4" font-weight="bold" text-anchor="middle" fill="#262626" textLength="33.0" lengthAdjust="spacingAndGlyphs" stroke="#262626" stroke-width="0.25">Cancer</text>
<text x="977.3" y="474.6" font-size="11" font-weight="bold" text-anchor="middle" fill="#333" textLength="12.0" lengthAdjust="spacingAndGlyphs" >32</text>
<text x="977.5" y="574.8" font-size="10.4" font-weight="bold" text-anchor="middle" fill="#262626" textLength="49.0" lengthAdjust="spacingAndGlyphs" stroke="#262626" stroke-width="0.25">Sagittarius</text>
<text x="1049.4" y="78.3" font-size="10.6" font-weight="bold" fill="#1f1f1f" textLength="20.0" lengthAdjust="spacingAndGlyphs" >Year</text>
<rect x="1049.3" y="86.6" width="170" height="1.1" fill="#4a857b"/>
<g fill="none" stroke="#474747" stroke-width="1.2" stroke-linecap="round" stroke-linejoin="round"><path d="M1194.2,69.4 l2,2 l4.2,-4.2"/><path d="M1203.0,70.6 h9"/><path d="M1194.2,74.6 l2,2 l4.2,-4.2"/><path d="M1203.0,75.8 h9"/><path d="M1194.2,79.7 l2,2 l4.2,-4.2"/><path d="M1203.0,80.9 h9"/></g>
<rect x="1050.5" y="92.0" width="62.1" height="27.0" rx="2.6" fill="url(#gBtn)" stroke="#2f8592" stroke-width="0.5"/>
<text x="1059.4" y="110.0" font-size="11" font-weight="bold" fill="#f4fdff" textLength="23.6" lengthAdjust="spacingAndGlyphs" stroke="#f4fdff" stroke-width="0.25">2022</text>
<rect x="1117.0" y="92.0" width="62.1" height="27.0" rx="2.6" fill="url(#gBtn)" stroke="#2f8592" stroke-width="0.5"/>
<text x="1125.9" y="110.0" font-size="11" font-weight="bold" fill="#f4fdff" textLength="23.6" lengthAdjust="spacingAndGlyphs" stroke="#f4fdff" stroke-width="0.25">2023</text>
<rect x="1183.5" y="92.0" width="62.1" height="27.0" rx="2.6" fill="url(#gBtn)" stroke="#2f8592" stroke-width="0.5"/>
<text x="1192.4" y="110.0" font-size="11" font-weight="bold" fill="#f4fdff" textLength="23.6" lengthAdjust="spacingAndGlyphs" stroke="#f4fdff" stroke-width="0.25">2024</text>
<text x="1049.4" y="152.7" font-size="10.6" font-weight="bold" fill="#1f1f1f" textLength="28.6" lengthAdjust="spacingAndGlyphs" >Month</text>
<rect x="1049.3" y="160.1" width="170" height="1.1" fill="#4a857b"/>
<g fill="none" stroke="#474747" stroke-width="1.2" stroke-linecap="round" stroke-linejoin="round"><path d="M1194.2,144.0 l2,2 l4.2,-4.2"/><path d="M1203.0,145.2 h9"/><path d="M1194.2,149.2 l2,2 l4.2,-4.2"/><path d="M1203.0,150.3 h9"/><path d="M1194.2,154.3 l2,2 l4.2,-4.2"/><path d="M1203.0,155.5 h9"/></g>
<rect x="1050.5" y="166.7" width="45.2" height="26.3" rx="2.6" fill="url(#gBtn)" stroke="#2f8592" stroke-width="0.5"/>
<text x="1059.4" y="183.8" font-size="10.6" font-weight="bold" fill="#f4fdff" textLength="14.3" lengthAdjust="spacingAndGlyphs" stroke="#f4fdff" stroke-width="0.25">Jan</text>
<rect x="1100.3" y="166.7" width="45.2" height="26.3" rx="2.6" fill="url(#gBtn)" stroke="#2f8592" stroke-width="0.5"/>
<text x="1109.2" y="183.8" font-size="10.6" font-weight="bold" fill="#f4fdff" textLength="16.5" lengthAdjust="spacingAndGlyphs" stroke="#f4fdff" stroke-width="0.25">Feb</text>
<rect x="1150.2" y="166.7" width="45.2" height="26.3" rx="2.6" fill="url(#gBtn)" stroke="#2f8592" stroke-width="0.5"/>
<text x="1159.1" y="183.8" font-size="10.6" font-weight="bold" fill="#f4fdff" textLength="17.0" lengthAdjust="spacingAndGlyphs" stroke="#f4fdff" stroke-width="0.25">Mar</text>
<rect x="1200.0" y="166.7" width="45.2" height="26.3" rx="2.6" fill="url(#gBtn)" stroke="#2f8592" stroke-width="0.5"/>
<text x="1209.0" y="183.8" font-size="10.6" font-weight="bold" fill="#f4fdff" textLength="15.5" lengthAdjust="spacingAndGlyphs" stroke="#f4fdff" stroke-width="0.25">Apr</text>
<rect x="1050.5" y="197.9" width="45.2" height="26.3" rx="2.6" fill="url(#gBtn)" stroke="#2f8592" stroke-width="0.5"/>
<text x="1059.4" y="215.0" font-size="10.6" font-weight="bold" fill="#f4fdff" textLength="18.3" lengthAdjust="spacingAndGlyphs" stroke="#f4fdff" stroke-width="0.25">May</text>
<rect x="1100.3" y="197.9" width="45.2" height="26.3" rx="2.6" fill="url(#gBtn)" stroke="#2f8592" stroke-width="0.5"/>
<text x="1109.2" y="215.0" font-size="10.6" font-weight="bold" fill="#f4fdff" textLength="15.5" lengthAdjust="spacingAndGlyphs" stroke="#f4fdff" stroke-width="0.25">Jun</text>
<rect x="1150.2" y="197.9" width="45.2" height="26.3" rx="2.6" fill="url(#gBtn)" stroke="#2f8592" stroke-width="0.5"/>
<text x="1159.1" y="215.0" font-size="10.6" font-weight="bold" fill="#f4fdff" textLength="12.6" lengthAdjust="spacingAndGlyphs" stroke="#f4fdff" stroke-width="0.25">Jul</text>
<rect x="1200.0" y="197.9" width="45.2" height="26.3" rx="2.6" fill="url(#gBtn)" stroke="#2f8592" stroke-width="0.5"/>
<text x="1209.0" y="215.0" font-size="10.6" font-weight="bold" fill="#f4fdff" textLength="17.0" lengthAdjust="spacingAndGlyphs" stroke="#f4fdff" stroke-width="0.25">Aug</text>
<rect x="1050.5" y="229.1" width="45.2" height="26.3" rx="2.6" fill="url(#gBtn)" stroke="#2f8592" stroke-width="0.5"/>
<text x="1059.4" y="246.2" font-size="10.6" font-weight="bold" fill="#f4fdff" textLength="17.3" lengthAdjust="spacingAndGlyphs" stroke="#f4fdff" stroke-width="0.25">Sep</text>
<rect x="1100.3" y="229.1" width="45.2" height="26.3" rx="2.6" fill="url(#gBtn)" stroke="#2f8592" stroke-width="0.5"/>
<text x="1109.2" y="246.2" font-size="10.6" font-weight="bold" fill="#f4fdff" textLength="15.8" lengthAdjust="spacingAndGlyphs" stroke="#f4fdff" stroke-width="0.25">Oct</text>
<rect x="1150.2" y="229.1" width="45.2" height="26.3" rx="2.6" fill="url(#gBtn)" stroke="#2f8592" stroke-width="0.5"/>
<text x="1159.1" y="246.2" font-size="10.6" font-weight="bold" fill="#f4fdff" textLength="17.3" lengthAdjust="spacingAndGlyphs" stroke="#f4fdff" stroke-width="0.25">Nov</text>
<rect x="1200.0" y="229.1" width="45.2" height="26.3" rx="2.6" fill="url(#gBtn)" stroke="#2f8592" stroke-width="0.5"/>
<text x="1210.5" y="246.2" font-size="10.6" font-weight="bold" fill="#f4fdff" textLength="16.5" lengthAdjust="spacingAndGlyphs" stroke="#f4fdff" stroke-width="0.25">Dec</text>
<text x="1049.4" y="292.5" font-size="10.6" font-weight="bold" fill="#1f1f1f" textLength="30.5" lengthAdjust="spacingAndGlyphs" >Region</text>
<rect x="1049.3" y="300.7" width="170" height="1.1" fill="#4a857b"/>
<g fill="none" stroke="#474747" stroke-width="1.2" stroke-linecap="round" stroke-linejoin="round"><path d="M1194.2,285.0 l2,2 l4.2,-4.2"/><path d="M1203.0,286.2 h9"/><path d="M1194.2,290.1 l2,2 l4.2,-4.2"/><path d="M1203.0,291.3 h9"/><path d="M1194.2,295.3 l2,2 l4.2,-4.2"/><path d="M1203.0,296.5 h9"/></g>
<rect x="1050.5" y="306.5" width="95.6" height="26.0" rx="2.6" fill="url(#gBtn)" stroke="#2f8592" stroke-width="0.5"/>
<text x="1059.4" y="323.4" font-size="10.6" font-weight="bold" fill="#f4fdff" textLength="32.9" lengthAdjust="spacingAndGlyphs" stroke="#f4fdff" stroke-width="0.25">Central</text>
<rect x="1151.0" y="306.5" width="95.6" height="26.0" rx="2.6" fill="url(#gBtn)" stroke="#2f8592" stroke-width="0.5"/>
<text x="1159.9" y="323.4" font-size="10.6" font-weight="bold" fill="#f4fdff" textLength="19.3" lengthAdjust="spacingAndGlyphs" stroke="#f4fdff" stroke-width="0.25">East</text>
<rect x="1050.5" y="337.7" width="95.6" height="26.0" rx="2.6" fill="url(#gBtn)" stroke="#2f8592" stroke-width="0.5"/>
<text x="1059.4" y="354.6" font-size="10.6" font-weight="bold" fill="#f4fdff" textLength="24.7" lengthAdjust="spacingAndGlyphs" stroke="#f4fdff" stroke-width="0.25">North</text>
<rect x="1151.0" y="337.7" width="95.6" height="26.0" rx="2.6" fill="url(#gBtn)" stroke="#2f8592" stroke-width="0.5"/>
<text x="1159.9" y="354.6" font-size="10.6" font-weight="bold" fill="#f4fdff" textLength="47.3" lengthAdjust="spacingAndGlyphs" stroke="#f4fdff" stroke-width="0.25">Northwest</text>
<rect x="1050.5" y="368.9" width="95.6" height="26.0" rx="2.6" fill="url(#gBtn)" stroke="#2f8592" stroke-width="0.5"/>
<text x="1059.4" y="385.8" font-size="10.6" font-weight="bold" fill="#f4fdff" textLength="25.0" lengthAdjust="spacingAndGlyphs" stroke="#f4fdff" stroke-width="0.25">South</text>
<rect x="1151.0" y="368.9" width="95.6" height="26.0" rx="2.6" fill="url(#gBtn)" stroke="#2f8592" stroke-width="0.5"/>
<text x="1159.9" y="385.8" font-size="10.6" font-weight="bold" fill="#f4fdff" textLength="47.8" lengthAdjust="spacingAndGlyphs" stroke="#f4fdff" stroke-width="0.25">Southwest</text>
<rect x="1050.5" y="400.1" width="95.6" height="26.0" rx="2.6" fill="url(#gBtn)" stroke="#2f8592" stroke-width="0.5"/>
<text x="1059.4" y="417.0" font-size="10.6" font-weight="bold" fill="#f4fdff" textLength="23.3" lengthAdjust="spacingAndGlyphs" stroke="#f4fdff" stroke-width="0.25">West</text>
<text x="1049.4" y="460.7" font-size="10.6" font-weight="bold" fill="#1f1f1f" textLength="73.9" lengthAdjust="spacingAndGlyphs" >Service Location</text>
<rect x="1049.3" y="468.5" width="170" height="1.1" fill="#4a857b"/>
<g fill="none" stroke="#474747" stroke-width="1.2" stroke-linecap="round" stroke-linejoin="round"><path d="M1194.2,452.6 l2,2 l4.2,-4.2"/><path d="M1203.0,453.8 h9"/><path d="M1194.2,457.8 l2,2 l4.2,-4.2"/><path d="M1203.0,458.9 h9"/><path d="M1194.2,462.9 l2,2 l4.2,-4.2"/><path d="M1203.0,464.1 h9"/></g>
<rect x="1050.5" y="475.0" width="95.6" height="26.0" rx="2.6" fill="url(#gBtn)" stroke="#2f8592" stroke-width="0.5"/>
<text x="1059.4" y="491.9" font-size="10.6" font-weight="bold" fill="#f4fdff" textLength="35.8" lengthAdjust="spacingAndGlyphs" stroke="#f4fdff" stroke-width="0.25">Chicago</text>
<rect x="1151.0" y="475.0" width="95.6" height="26.0" rx="2.6" fill="url(#gBtn)" stroke="#2f8592" stroke-width="0.5"/>
<text x="1159.9" y="491.9" font-size="10.6" font-weight="bold" fill="#f4fdff" textLength="27.8" lengthAdjust="spacingAndGlyphs" stroke="#f4fdff" stroke-width="0.25">Dallas</text>
<rect x="1050.5" y="506.2" width="95.6" height="26.0" rx="2.6" fill="url(#gBtn)" stroke="#2f8592" stroke-width="0.5"/>
<text x="1059.4" y="523.1" font-size="10.6" font-weight="bold" fill="#f4fdff" textLength="41.5" lengthAdjust="spacingAndGlyphs" stroke="#f4fdff" stroke-width="0.25">New York</text>
<rect x="1151.0" y="506.2" width="95.6" height="26.0" rx="2.6" fill="url(#gBtn)" stroke="#2f8592" stroke-width="0.5"/>
<text x="1159.9" y="523.1" font-size="10.6" font-weight="bold" fill="#f4fdff" textLength="36.7" lengthAdjust="spacingAndGlyphs" stroke="#f4fdff" stroke-width="0.25">Phoenix</text>
<rect x="1050.5" y="537.5" width="95.6" height="26.0" rx="2.6" fill="url(#gBtn)" stroke="#2f8592" stroke-width="0.5"/>
<text x="1059.4" y="554.4" font-size="10.6" font-weight="bold" fill="#f4fdff" textLength="38.0" lengthAdjust="spacingAndGlyphs" stroke="#f4fdff" stroke-width="0.25">San Jose</text>
</svg>
</body></html>
